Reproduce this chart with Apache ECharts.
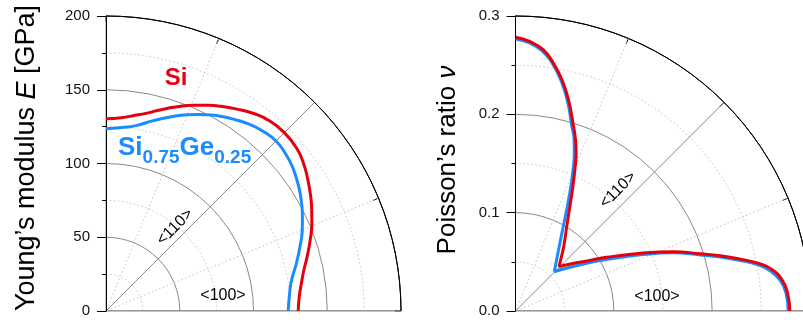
<!DOCTYPE html>
<html>
<head>
<meta charset="utf-8">
<script src="https://cdn.jsdelivr.net/npm/echarts@6/dist/echarts.min.js"></script>
<style>
  html, body { margin: 0; padding: 0; background: #ffffff; }
  #chart { width: 803px; height: 324px; }
</style>
</head>
<body>
<div id="chart"></div>
<script>
// In-plane direction angle (degrees), measured from [100] towards [010].
// Young's modulus E (GPa) in the (001) plane.
const eAngleSi   = [0, 4.5, 8.2, 11.7, 15.3, 19.2, 22.9, 26.1, 29.1, 33.0, 36.8, 40.4, 45,
                    49.6, 53.2, 57.0, 60.9, 63.9, 67.1, 70.8, 74.7, 78.3, 81.8, 85.5, 90];
const eSi        = [130.3, 131.5, 133.9, 137.0, 141.5, 146.6, 151.5, 155.3, 158.9, 163.2, 167.2, 169.9, 171.0,
                    169.9, 167.2, 163.2, 158.9, 155.3, 151.5, 146.6, 141.5, 137.0, 133.9, 131.5, 130.3];
const eAngleSiGe = [0, 6.5, 9.5, 14.0, 18.3, 22.4, 25.3, 28.2, 31.3, 33.6, 37.6, 40.8, 45,
                    49.2, 52.4, 56.4, 58.7, 61.8, 64.7, 67.6, 71.7, 76.0, 80.5, 83.5, 90];
const eSiGe      = [123.5, 125.5, 127.6, 133.0, 138.5, 143.9, 147.3, 150.7, 154.0, 156.2, 159.7, 161.6, 163.0,
                    161.6, 159.7, 156.2, 154.0, 150.7, 147.3, 143.9, 138.5, 133.0, 127.6, 125.5, 123.6];

// Poisson's ratio in the (001) plane.
const nuAngleSi   = [0, 3.8, 6.7, 9.2, 10.9, 13.0, 15.1, 17.2, 20.6, 24.8, 30.5, 35.4, 40.5, 45.5,
                     50.4, 53.7, 59.1, 62.6, 65.3, 67.3, 69.0, 70.8, 72.5, 75.9, 78.6, 81.3, 83.9, 86.9, 90];
const nuSi        = [0.279, 0.2772, 0.2728, 0.2641, 0.2535, 0.2345, 0.2156, 0.1967, 0.1716, 0.140, 0.1075, 0.0874, 0.0736, 0.063,
                     0.074, 0.0833, 0.1019, 0.1203, 0.1399, 0.1566, 0.1721, 0.1853, 0.1965, 0.2213, 0.2396, 0.2549, 0.267, 0.2743, 0.2783];
const nuAngleSiGe = [0, 3.7, 6.5, 8.9, 10.7, 12.75, 14.8, 16.9, 20.2, 24.2, 29.5, 34.2, 40.4, 45.4,
                     53.1, 56.3, 60.8, 63.7, 66.1, 67.9, 69.6, 71.2, 73.0, 76.2, 78.9, 81.55, 84.1, 87.0, 90];
const nuSiGe      = [0.2773, 0.2757, 0.2713, 0.2625, 0.2520, 0.2336, 0.2153, 0.1963, 0.1712, 0.1394, 0.1063, 0.0860, 0.0667, 0.0561,
                     0.0712, 0.0807, 0.1001, 0.1192, 0.1391, 0.1559, 0.1715, 0.1848, 0.1961, 0.2209, 0.2394, 0.2547, 0.2658, 0.2730, 0.2766];

// Radial tick values
const eTicks  = [0, 50, 100, 150, 200];
const nuTicks = [0.0, 0.1, 0.2, 0.3];

const directionLabels = ['<100>', '<110>'];
const materialLabels = ['Si', 'Si0.75Ge0.25'];

const RED = '#e6000d';
const BLUE = '#1a8cff';
const GRID = '#8a8a8a';
const GRID_DOT = '#c2c2c2';
const FONT = '"Liberation Sans", Arial, Helvetica, sans-serif';
const CENTERS = [[106, 311], [515.5, 311]];
const RADIUS = 295;

// The angle axis starts at [010] (top) and runs clockwise to [100] (right),
// so a direction angle theta sits at axis value 90 - theta.
function polarPoints(angles, values) {
  return angles.map((a, i) => [values[i], 90 - a]);
}
// Split a ν curve at its cusp near <110> so each branch is smoothed on its own.
function splitAtCusp(angles, values) {
  let k = 0;
  values.forEach((v, i) => { if (v < values[k]) k = i; });
  const pts = polarPoints(angles, values);
  return [pts.slice(0, k + 1), pts.slice(k)];
}

function angleAxisFor(polarIndex, visible) {
  return {
    polarIndex,
    type: 'value',
    min: 0, max: 90, interval: 45,
    startAngle: 90, endAngle: 0,
    clockwise: true,
    axisLine: { show: visible, lineStyle: { color: '#000', width: 1 } },
    axisTick: { show: visible, inside: true, length: 6, lineStyle: { color: '#000', width: 1 } },
    minorTick: { show: visible, splitNumber: 2, length: 6, lineStyle: { color: '#000', width: 1 } },
    axisLabel: { show: false },
    splitLine: { show: visible, lineStyle: { color: GRID, width: 1 } },
    minorSplitLine: { show: visible, lineStyle: { color: GRID_DOT, width: 1, type: [1.5, 2.5] } },
    z: visible ? 3 : 1
  };
}

// Main radial axis: labels, ticks and the solid circles (outer one drawn black)
function radiusAxisFor(polarIndex, ticks, decimals) {
  const circleColors = ticks.map((t, i) => (i === ticks.length - 1 ? '#000' : GRID));
  return {
    polarIndex,
    type: 'value',
    min: ticks[0],
    max: ticks[ticks.length - 1],
    interval: ticks[1] - ticks[0],
    axisLine: { show: true, lineStyle: { color: '#000', width: 1 } },
    axisTick: { show: true, length: 9, lineStyle: { color: '#000', width: 1 } },
    minorTick: { show: true, splitNumber: 2, length: 4, lineStyle: { color: '#000', width: 1 } },
    axisLabel: {
      show: true, margin: 16, fontSize: 15, fontFamily: FONT, color: '#111',
      formatter: v => Number(v).toFixed(decimals)
    },
    splitLine: { show: true, lineStyle: { color: circleColors, width: 1 } },
    z: 3
  };
}

// Companion radial axis that only draws the dotted half-step circles
function dottedRadiusAxisFor(polarIndex, ticks) {
  return {
    polarIndex,
    type: 'value',
    min: ticks[0],
    max: ticks[ticks.length - 1],
    interval: (ticks[1] - ticks[0]) / 2,
    axisLine: { show: false },
    axisTick: { show: false },
    axisLabel: { show: false },
    splitLine: { show: true, lineStyle: { color: ['rgba(0,0,0,0)', GRID_DOT], width: 1, type: [1.5, 2.5] } },
    z: 1
  };
}

function curve(polarIndex, data, color, z) {
  return {
    type: 'line',
    coordinateSystem: 'polar',
    polarIndex,
    data,
    smooth: 0.5,
    showSymbol: false,
    symbol: 'none',
    silent: true,
    lineStyle: { color, width: 3 },
    z
  };
}

// The [100] ray along the bottom edge of each quarter
function baseRay(polarIndex, ticks) {
  return {
    type: 'line', coordinateSystem: 'polar', polarIndex,
    data: [[ticks[0], 90], [ticks[ticks.length - 1], 90]],
    showSymbol: false, symbol: 'none', silent: true,
    lineStyle: { color: '#a3a3a3', width: 2 },
    z: 2
  };
}

const [nuSiGeLow, nuSiGeHigh] = splitAtCusp(nuAngleSiGe, nuSiGe);
const [nuSiLow, nuSiHigh] = splitAtCusp(nuAngleSi, nuSi);

const plain = { fontFamily: FONT, fill: '#000' };

const option = {
  animation: false,
  backgroundColor: '#ffffff',
  polar: [
    { center: CENTERS[0], radius: RADIUS },
    { center: CENTERS[1], radius: RADIUS },
    { center: CENTERS[0], radius: RADIUS },
    { center: CENTERS[1], radius: RADIUS }
  ],
  angleAxis: [angleAxisFor(0, true), angleAxisFor(1, true), angleAxisFor(2, false), angleAxisFor(3, false)],
  radiusAxis: [
    radiusAxisFor(0, eTicks, 0),
    radiusAxisFor(1, nuTicks, 1),
    dottedRadiusAxisFor(2, eTicks),
    dottedRadiusAxisFor(3, nuTicks)
  ],
  series: [
    baseRay(0, eTicks),
    baseRay(1, nuTicks),
    curve(0, polarPoints(eAngleSiGe, eSiGe), BLUE, 4),
    curve(0, polarPoints(eAngleSi, eSi), RED, 5),
    curve(1, nuSiGeLow, BLUE, 4),
    curve(1, nuSiGeHigh, BLUE, 4),
    curve(1, nuSiLow, RED, 5),
    curve(1, nuSiHigh, RED, 5)
  ],
  graphic: [
    {
      type: 'text', x: 27, y: 158, rotation: Math.PI / 2, z: 10,
      style: {
        text: '{n|Young’s modulus }{i|E}{n| [GPa]}',
        align: 'center', verticalAlign: 'middle',
        rich: {
          n: { fontSize: 27, fontFamily: FONT, fill: '#000' },
          i: { fontSize: 27, fontFamily: FONT, fontStyle: 'italic', fill: '#000' }
        }
      }
    },
    {
      type: 'text', x: 448, y: 160, rotation: Math.PI / 2, z: 10,
      style: {
        text: '{n|Poisson’s ratio }{i|ν}',
        align: 'center', verticalAlign: 'middle',
        rich: {
          n: { fontSize: 26, fontFamily: FONT, fill: '#000' },
          i: { fontSize: 26, fontFamily: FONT, fontStyle: 'italic', fill: '#000' }
        }
      }
    },
    // crystal direction labels
    { type: 'text', x: 223, y: 296, z: 10,
      style: Object.assign({ text: directionLabels[0], fontSize: 16, align: 'center', verticalAlign: 'middle' }, plain) },
    { type: 'text', x: 175, y: 227, rotation: Math.PI / 4, z: 10,
      style: Object.assign({ text: directionLabels[1], fontSize: 16, align: 'center', verticalAlign: 'middle' }, plain) },
    { type: 'text', x: 657, y: 297, z: 10,
      style: Object.assign({ text: directionLabels[0], fontSize: 16, align: 'center', verticalAlign: 'middle' }, plain) },
    { type: 'text', x: 618, y: 190, rotation: Math.PI / 4, z: 10,
      style: Object.assign({ text: directionLabels[1], fontSize: 16, align: 'center', verticalAlign: 'middle' }, plain) },
    // material labels
    { type: 'text', x: 176, y: 78, z: 10,
      style: { text: materialLabels[0], fontSize: 24, fontWeight: 'bold', fontFamily: FONT, fill: RED,
               align: 'center', verticalAlign: 'middle' } },
    { type: 'text', x: 118, y: 167, z: 10,
      style: {
        text: '{m|Si}{s|0.75}{m|Ge}{s|0.25}',
        align: 'left', verticalAlign: 'bottom',
        rich: {
          m: { fontSize: 26, fontWeight: 'bold', fontFamily: FONT, fill: BLUE, verticalAlign: 'bottom', padding: [0, 0, 6, 0] },
          s: { fontSize: 19, fontWeight: 'bold', fontFamily: FONT, fill: BLUE, verticalAlign: 'bottom' }
        }
      }
    }
  ]
};

const chart = echarts.init(document.getElementById('chart'), null, { renderer: 'canvas' });
chart.setOption(option);
</script>
</body>
</html>
